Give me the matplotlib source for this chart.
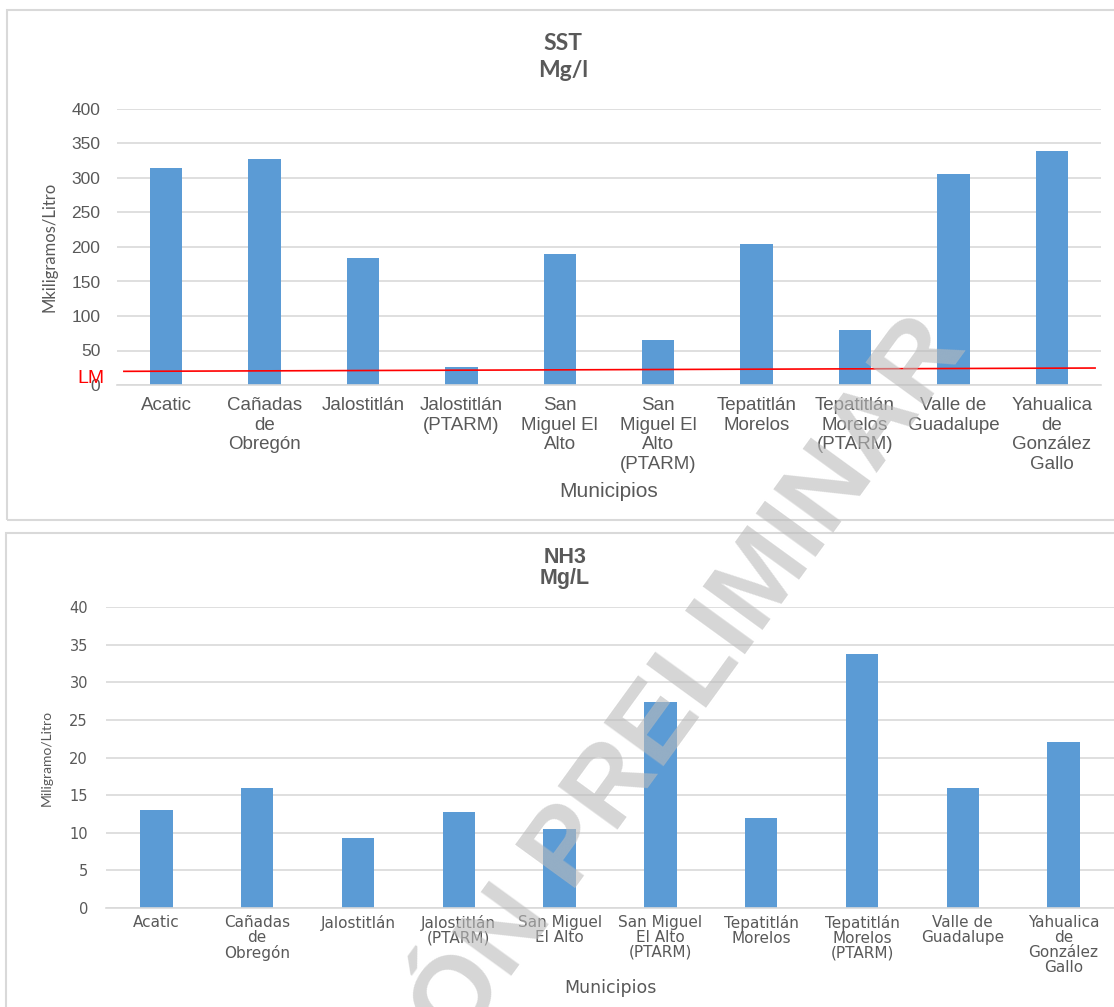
import matplotlib
matplotlib.use("Agg")
import matplotlib.pyplot as plt
from matplotlib.patches import Rectangle

# municipios y resultados de laboratorio
labels_sst = [
    "Acatic", "Cañadas\nde\nObregón", "Jalostitlán", "Jalostitlán\n(PTARM)",
    "San\nMiguel El\nAlto", "San\nMiguel El\nAlto\n(PTARM)", "Tepatitlán\nMorelos",
    "Tepatitlán\nMorelos\n(PTARM)", "Valle de\nGuadalupe", "Yahualica\nde\nGonzález\nGallo",
]
labels_nh3 = [
    "Acatic", "Cañadas\nde\nObregón", "Jalostitlán", "Jalostitlán\n(PTARM)",
    "San Miguel\nEl Alto", "San Miguel\nEl Alto\n(PTARM)", "Tepatitlán\nMorelos",
    "Tepatitlán\nMorelos\n(PTARM)", "Valle de\nGuadalupe", "Yahualica\nde\nGonzález\nGallo",
]
sst = [315, 328, 184, 26, 190, 65, 204, 80, 306, 339]
nh3 = [13.0, 16.0, 9.3, 12.8, 10.5, 27.4, 12.0, 33.8, 16.0, 22.0]
sst_ticks = [0, 50, 100, 150, 200, 250, 300, 350, 400]
nh3_ticks = [0, 5, 10, 15, 20, 25, 30, 35, 40]
# limite maximo (linea roja)
lm_x = [-0.43, 9.44]
lm_y = [19.8, 24.6]

BLUE = "#5B9BD5"
GRID = "#D9D9D9"
TXT = "#595959"

W, H = 1114, 1007
fig = plt.figure(figsize=(W / 100, H / 100), dpi=100)


def px(x0, y0, x1, y1):
    # pixel box -> figure fraction [left, bottom, width, height]
    return [x0 / W, 1 - y1 / H, (x1 - x0) / W, (y1 - y0) / H]


# marcos de las dos graficas
fig.patches.append(Rectangle((7 / W, 1 - 520 / H), 1.2, 510 / H, transform=fig.transFigure,
                             fill=False, edgecolor=GRID, lw=1.5))
fig.patches.append(Rectangle((6 / W, -0.1), 1.2, 1 - 533 / H + 0.1, transform=fig.transFigure,
                             fill=False, edgecolor=GRID, lw=1.5))


def style(ax, ticks, ymax, tick_font, tick_size, ypad, xpad):
    ax.set_xlim(-0.5, 9.5)
    ax.set_ylim(0, ymax)
    ax.set_yticks(ticks)
    ax.grid(axis="y", color=GRID, lw=1.2)
    ax.set_axisbelow(True)
    for s in ["top", "right", "left"]:
        ax.spines[s].set_visible(False)
    ax.spines["bottom"].set_color(GRID)
    ax.spines["bottom"].set_linewidth(1.2)
    ax.tick_params(length=0, colors=TXT)
    ax.tick_params(axis="y", pad=ypad)
    ax.tick_params(axis="x", pad=xpad)
    for t in ax.get_yticklabels():
        t.set_fontfamily(tick_font)
        t.set_fontsize(tick_size)
    ax.set_facecolor("none")


# --- SST ---
ax1 = fig.add_axes(px(117, 109, 1101, 385))
ax1.bar(range(10), sst, width=0.33, color=BLUE, zorder=2)
style(ax1, sst_ticks, 400, "Liberation Sans", 12.5, 12, 9)
ax1.set_xticks(range(10))
ax1.set_xticklabels(labels_sst, fontsize=13.5, family="Liberation Sans", color=TXT,
                    linespacing=1.18)
ax1.plot(lm_x, lm_y, color="#FF0000", lw=1.2, zorder=3, clip_on=False)
ax1.set_ylabel("Mkiligramos/Litro", fontsize=12, family="Lato", color=TXT, labelpad=10)
ax1.set_xlabel("Municipios", fontsize=15, family="Liberation Sans", color=TXT, labelpad=7)
fig.text(563 / W, 1 - 57 / H, "SST\nMg/l", ha="center", va="center", fontsize=16.5,
         fontweight="bold", family="Lato", color=TXT, linespacing=1.3)
fig.text(77 / W, 1 - 383 / H, "LM", ha="left", va="baseline", fontsize=14,
         family="Liberation Sans", color="#FF0000")

# --- NH3 ---
ax2 = fig.add_axes(px(106, 607, 1114, 908))
ax2.bar(range(10), nh3, width=0.32, color=BLUE, zorder=2)
style(ax2, nh3_ticks, 40, "DejaVu Sans", 10.5, 13, 5)
ax2.set_xticks(range(10))
ax2.set_xticklabels(labels_nh3, fontsize=11, family="DejaVu Sans", color=TXT,
                    linespacing=1.0)
ax2.set_ylabel("Miligramo/Litro", fontsize=10, family="Lato", color=TXT, labelpad=12)
ax2.set_xlabel("Municipios", fontsize=12.5, family="DejaVu Sans", color=TXT, labelpad=3)
fig.text(565 / W, 1 - 568 / H, "NH3\nMg/L", ha="center", va="center", fontsize=15.5,
         fontweight="bold", family="Liberation Sans", color=TXT, linespacing=1.05)

# marca de agua
fig.text(968 / W, 1 - 348 / H, "VERSIÓN PRELIMINAR", ha="right", va="baseline",
         rotation=54, rotation_mode="anchor", fontsize=78, fontweight="bold",
         family="Liberation Sans", color="#BBBBBB", alpha=0.6, zorder=20)

fig.savefig("out.png", dpi=100)
